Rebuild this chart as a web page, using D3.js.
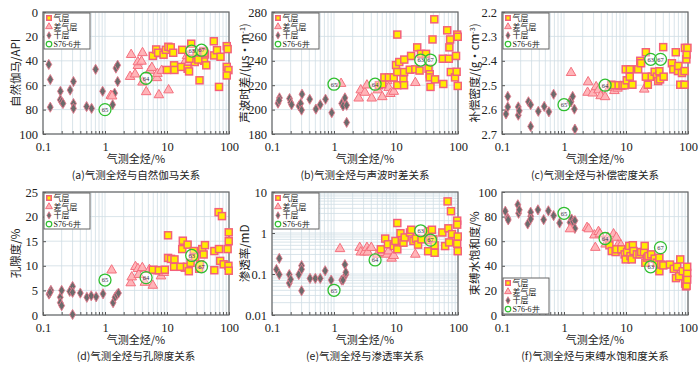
<!DOCTYPE html>
<html>
<head>
<meta charset="utf-8">
<script src="https://cdn.jsdelivr.net/npm/d3@7"></script>
<style>
  body { margin: 0; background: #fff; }
</style>
</head>
<body>
<svg id="chart" width="700" height="374"></svg>
<script>
// S76-6井 samples, same x in every panel
var wellNames = ["63", "64", "65", "67"];
var wellX = [25, 4.6, 1.0, 36];

// (a) 自然伽马/API
var gasA = [[5.9,36],[6.7,30.7],[7.2,33.4],[8.8,35],[9.6,31],[10.5,28.5],[11.5,29],[12.6,33.4],[13,43.7],[10,47.5],[13.2,47.5],[17.6,31],[17,45],[21.5,46.5],[22.7,48.7],[24.6,26],[28,41],[30,34],[34,38.3],[33.5,56],[38.5,32],[39.6,40],[41,34.8],[43,43.7],[57,24],[57.6,35.6],[64,31.3],[69,61.4],[73,36.7],[92,28],[95,30.4],[92,45],[98,47.6],[92,52],[23,38.3],[32,39],[40,33.5]];
var poorA = [[1.24,68.5],[1.3,69],[2.54,53],[2.64,35],[3.06,51],[3.39,44],[3.39,41],[3.88,40.5],[4.03,33.5],[4.03,57.6],[4.62,65.5],[5.3,48],[5.7,45.6],[6.88,54],[7.0,50.5],[7.4,68],[8.0,34.5],[8.2,48],[10.6,64],[20,40],[21,36],[22,42]];
var dryA = [[0.124,43],[0.131,55.4],[0.131,78],[0.191,65],[0.19,72],[0.2,73.6],[0.21,75],[0.274,64],[0.31,57],[0.31,75],[0.31,79],[0.505,77.5],[0.608,79],[0.706,47],[0.916,65],[1.33,76],[1.43,66.5],[1.5,46],[1.6,43.6],[1.6,57]];
var wellA = [32, 54.3, 80, 31.3];

// (b) 声波时差
var gasB = [[5.3,220],[6,220.8],[6.5,226.4],[7.7,226.4],[9.2,226.4],[10,236.5],[10.5,220],[10.5,230.8],[11.3,239],[10.5,261.5],[13.2,224.8],[13.5,230.8],[13.6,241],[13.5,220],[16.7,232.7],[17.5,244],[20.5,233],[22,251],[24,232],[25.3,245.7],[30.5,245.7],[33.5,233.5],[35,229],[35,226.4],[36,218.6],[38.8,257.5],[41.5,274],[42.6,224.8],[57,241.7],[58,221],[71,241.7],[67,265],[74.6,257.5],[72.6,251],[76.6,230.8],[89.5,226.4],[95,231],[93,244],[97,261.5],[99,259.7],[99,219.4]];
var poorB = [[1.3,221.3],[2.5,209.3],[2.7,216],[3.15,214],[3.4,220],[4.06,209.3],[5.1,216],[6.0,210.4],[7.2,223.5],[7.6,218],[8.1,213],[9.2,214.8],[20.5,222]];
var dryB = [[0.125,205.3],[0.132,209.6],[0.13,207.5],[0.192,209],[0.2,205.8],[0.207,204],[0.272,203],[0.29,205],[0.305,212.6],[0.3,199.6],[0.406,208.5],[0.51,200.4],[0.6,204],[0.73,208.5],[0.92,197.4],[1.33,205],[1.4,203],[1.5,209.6],[1.6,203.6],[1.6,189.5]];
var wellB = [240.6, 220.8, 220.8, 240.6];

// (c) 补偿密度
var gasC = [[5.8,2.498],[6.4,2.5],[7.6,2.5],[8.8,2.5],[9.5,2.5],[10.3,2.48],[9.9,2.435],[11.5,2.435],[11.5,2.465],[12.7,2.498],[15.7,2.435],[17,2.4],[17.5,2.41],[20.9,2.365],[20.9,2.465],[22.5,2.498],[26,2.465],[29,2.445],[31.5,2.465],[33,2.483],[34.5,2.443],[35.4,2.476],[39.8,2.344],[40.5,2.465],[55,2.41],[58,2.435],[63.5,2.365],[69,2.442],[70,2.421],[75,2.498],[80,2.45],[88,2.498],[88,2.442],[89,2.347],[94,2.394],[95,2.374],[98,2.347]];
var poorC = [[1.3,2.449],[2.45,2.487],[2.4,2.53],[2.9,2.533],[3.3,2.507],[3.6,2.52],[3.9,2.544],[4.6,2.548],[5.4,2.51],[6.5,2.523],[7.3,2.513],[8.2,2.505],[19.7,2.517]];
var dryC = [[0.116,2.618],[0.124,2.546],[0.124,2.589],[0.183,2.589],[0.183,2.623],[0.19,2.605],[0.267,2.568],[0.29,2.58],[0.29,2.669],[0.385,2.607],[0.48,2.587],[0.57,2.609],[0.68,2.537],[1.24,2.568],[1.3,2.568],[1.38,2.546],[1.47,2.598],[1.5,2.68]];
var wellC = [2.394, 2.5, 2.58, 2.394];

// (d) 孔隙度
var gasD = [[5.9,9.2],[7.4,9.1],[9.2,9.2],[10.4,16.2],[10.4,11.6],[11.6,11.4],[13,9.8],[13.2,11.3],[16.5,9.8],[17.6,13.4],[18,15.1],[21,9.8],[21.5,14.3],[22.5,8.9],[24,10.6],[27,13],[28.5,11.8],[33,9.4],[34,10.3],[37,13.4],[39,12.3],[41,14.2],[58,9.1],[58,13],[68,20.9],[69,13.4],[72,11],[77,20.1],[82,10.3],[95,13.4],[99,16.8],[99,15],[98,10],[99,9]];
var poorD = [[1.28,9.1],[2.6,6.5],[2.7,7.7],[3.1,9.8],[3.4,9.4],[3.5,8.2],[4,9.6],[4.4,6.6],[5.2,9.2],[5.9,6],[7.0,8.9],[8,7.9],[8.9,8.6],[20,9.4]];
var dryD = [[0.125,4.25],[0.134,5],[0.13,4.6],[0.19,3.6],[0.2,5],[0.19,2.5],[0.2,1.9],[0.27,4.8],[0.3,5.8],[0.3,4.6],[0.3,0.1],[0.4,4.45],[0.51,3.6],[0.6,3.9],[0.72,3.7],[0.93,4.3],[1.35,2.5],[1.45,3.6],[1.55,4.1],[1.65,4.45]];
var wellD = [12.1, 7.6, 7.1, 9.8];

// (e) 渗透率
var gasE = [[5.7,0.4],[6.7,0.73],[7.4,0.53],[9.2,0.48],[9.8,0.64],[10.5,1.75],[10.5,0.4],[11.8,0.99],[12.4,0.66],[13.2,0.58],[13.8,0.78],[16.8,1.03],[17.6,1.2],[19.1,0.64],[21,0.73],[22.7,0.52],[25.8,0.7],[33,1.1],[33,0.36],[35,0.67],[38,1.2],[40,0.7],[42,0.33],[42,0.5],[56,1.03],[62,0.48],[68,5.9],[70,1.3],[72,0.59],[77,3.4],[80,0.94],[97,2.0],[97,1.6],[97,0.55],[99,0.82],[99,0.36]];
var poorE = [[1.25,0.41],[2.6,0.44],[2.7,0.34],[3.1,0.34],[3.4,0.44],[3.5,0.34],[4,0.44],[5,0.3],[6,0.33],[7.2,0.3],[7.6,0.36],[8.5,0.24],[9.2,0.28],[20.5,0.3]];
var dryE = [[0.118,0.129],[0.131,0.24],[0.131,0.097],[0.19,0.097],[0.19,0.06],[0.2,0.074],[0.27,0.097],[0.3,0.16],[0.3,0.13],[0.3,0.039],[0.41,0.078],[0.5,0.078],[0.6,0.078],[0.72,0.12],[0.9,0.071],[1.33,0.071],[1.4,0.071],[1.5,0.17],[1.55,0.097],[1.55,0.11]];
var wellE = [1.13, 0.22, 0.04, 0.67];

// (f) 束缚水饱和度
var gasF = [[5.4,56.7],[5.9,52],[6.8,51.2],[7,53.4],[8.4,53.4],[9.5,49.3],[9.9,45.2],[10.4,51.2],[11.3,56.2],[11.8,47.9],[12.4,45.2],[12.9,56.7],[13.2,52],[15,49.3],[16.5,49.3],[17.6,51.2],[19.5,51.2],[20,56.2],[20.5,42.5],[22,46.6],[23,47.9],[25.5,49.3],[29,45.8],[31.5,42.5],[34.5,46.6],[34.5,35.6],[37,41],[40,40.3],[51,41],[59,37.5],[64,30],[67,39.2],[72,31.5],[75,45.2],[82,35.6],[90,25.5],[93,23.3],[95,23.8],[97,28.8],[97,34.2],[97,39.2]];
var poorF = [[1.25,69.9],[2.35,71],[2.5,69.9],[3.1,64.9],[3.2,54.8],[3.6,67.7],[3.8,65.8],[4.7,57.5],[5.1,63],[6.3,65.8],[7,63],[7.4,56.7],[8.3,56.7]];
var dryF = [[0.113,84.4],[0.124,78.6],[0.126,77.3],[0.18,89.6],[0.185,82.7],[0.19,85.5],[0.26,74],[0.29,80.3],[0.29,83.6],[0.29,78],[0.38,85.5],[0.47,77.5],[0.56,84.7],[0.68,80.8],[0.85,74.8],[1.25,75.3],[1.33,78],[1.4,75.9],[1.5,76.7],[1.5,70.4]];
var wellF = [39.2, 62.2, 82.7, 54.8];

var xTicks = [0.1, 1, 10, 100];
var legendNames = ["气层", "差气层", "干层", "S76-6井"];

var cols = [[43, 229], [272, 458], [502, 688]];
var rows = [[12, 134], [192, 315]];

var panels = [
  { cap: "(a)气测全烃与自然伽马关系", yl: ["自然伽马/API"], dom: [0, 100], rev: true, ticks: [0, 20, 40, 60, 80, 100],
    gas: gasA, poor: poorA, dry: dryA, well: wellA, c: 0, r: 0, leg: "top" },
  { cap: "(b)气测全烃与声波时差关系", yl: ["声波时差/(μs·m", "-1", ")"], dom: [180, 280], ticks: [180, 200, 220, 240, 260, 280],
    gas: gasB, poor: poorB, dry: dryB, well: wellB, c: 1, r: 0, leg: "top" },
  { cap: "(c)气测全烃与补偿密度关系", yl: ["补偿密度/(g·cm", "-3", ")"], dom: [2.2, 2.7], rev: true, ticks: [2.2, 2.3, 2.4, 2.5, 2.6, 2.7], fmt: ".1f",
    gas: gasC, poor: poorC, dry: dryC, well: wellC, c: 2, r: 0, leg: "top" },
  { cap: "(d)气测全烃与孔隙度关系", yl: ["孔隙度/%"], dom: [0, 25], ticks: [0, 5, 10, 15, 20, 25],
    gas: gasD, poor: poorD, dry: dryD, well: wellD, c: 0, r: 1, leg: "top" },
  { cap: "(e)气测全烃与渗透率关系", yl: ["渗透率/mD"], dom: [0.01, 10], log: true, ticks: [0.01, 0.1, 1, 10],
    gas: gasE, poor: poorE, dry: dryE, well: wellE, c: 1, r: 1, leg: "top" },
  { cap: "(f)气测全烃与束缚水饱和度关系", yl: ["束缚水饱和度/%"], dom: [0, 100], ticks: [0, 20, 40, 60, 80, 100],
    gas: gasF, poor: poorF, dry: dryF, well: wellF, c: 2, r: 1, leg: "bottom" }
];

var svg = d3.select("#chart");
var CJK = "'Noto Sans CJK SC', sans-serif";
var NUM = "'Liberation Serif', serif";

// minor positions for a log domain
function logMinors(lo, hi) {
  var out = [];
  for (var e = Math.round(Math.log10(lo)); e < Math.round(Math.log10(hi)); e++) {
    for (var k = 1; k <= 9; k++) out.push(k * Math.pow(10, e));
  }
  out.push(hi);
  return out;
}

var triangle = d3.symbol().type(d3.symbolTriangle).size(40);
var diamond = d3.symbol().type(d3.symbolDiamond).size(30);

function square(sel, cx, cy, s) {
  sel.attr("x", cx - s / 2).attr("y", cy - s / 2).attr("width", s).attr("height", s)
    .attr("fill", "#ffec00").attr("stroke", "#f4607a").attr("stroke-width", 1.5);
}

panels.forEach(function (p) {
  var x0 = cols[p.c][0], x1 = cols[p.c][1];
  var y0 = rows[p.r][0], y1 = rows[p.r][1];
  var g = svg.append("g");

  var x = d3.scaleLog().domain([0.1, 100]).range([x0, x1]);
  var y;
  if (p.log) {
    y = d3.scaleLog().domain(p.dom).range([y1, y0]);
  } else if (p.rev) {
    y = d3.scaleLinear().domain(p.dom).range([y0, y1]);
  } else {
    y = d3.scaleLinear().domain(p.dom).range([y1, y0]);
  }

  // grid
  var xm = logMinors(0.1, 100);
  g.append("g").selectAll("line").data(xm).enter().append("line")
    .attr("x1", function (d) { return x(d); }).attr("x2", function (d) { return x(d); })
    .attr("y1", y0).attr("y2", y1)
    .attr("stroke", "#cfdde4").attr("stroke-width", 0.8);
  var ygrid = p.log ? logMinors(p.dom[0], p.dom[1]) : p.ticks;
  g.append("g").selectAll("line").data(ygrid).enter().append("line")
    .attr("x1", x0).attr("x2", x1)
    .attr("y1", function (d) { return y(d); }).attr("y2", function (d) { return y(d); })
    .attr("stroke", "#cfdde4").attr("stroke-width", 0.8);

  // axes
  var fmtY = p.fmt ? d3.format(p.fmt) : function (d) { return String(d); };
  var ax = g.append("g").attr("transform", "translate(" + x0 + ",0)")
    .call(d3.axisLeft(y).tickValues(p.ticks).tickSize(-3).tickPadding(5).tickFormat(fmtY));
  ax.select(".domain").remove();
  ax.selectAll("line").attr("stroke", "#555");
  ax.selectAll("text").attr("font-size", 12.5).attr("fill", "#222").attr("font-family", NUM);

  var bx = g.append("g").attr("transform", "translate(0," + y1 + ")")
    .call(d3.axisBottom(x).tickValues(xm).tickSize(-3).tickPadding(8)
      .tickFormat(function (d) { return xTicks.indexOf(d) >= 0 ? String(d) : ""; }));
  bx.select(".domain").remove();
  bx.selectAll("line").attr("stroke", "#555");
  bx.selectAll("text").attr("font-size", 12.5).attr("fill", "#222").attr("font-family", NUM);

  g.append("rect").attr("x", x0).attr("y", y0).attr("width", x1 - x0).attr("height", y1 - y0)
    .attr("fill", "none").attr("stroke", "#666").attr("stroke-width", 1.2);

  // y label
  var lbl = g.append("text")
    .attr("transform", "translate(" + (x0 - 27) + "," + ((y0 + y1) / 2) + ") rotate(-90)")
    .attr("text-anchor", "middle").attr("dy", 4).attr("font-size", 11.5).attr("fill", "#222")
    .attr("font-family", CJK);
  lbl.append("tspan").text(p.yl[0]);
  if (p.yl.length > 1) {
    lbl.append("tspan").attr("dy", -4).attr("font-size", 7).text(p.yl[1]);
    lbl.append("tspan").attr("dy", 4).text(p.yl[2]);
  }

  // x label and caption
  var cx = (x0 + x1) / 2;
  g.append("text").attr("x", cx).attr("y", y1 + 29).attr("text-anchor", "middle")
    .attr("font-size", 11).attr("fill", "#222").attr("font-family", CJK)
    .text("气测全烃/%");
  g.append("text").attr("x", cx).attr("y", y1 + 45).attr("text-anchor", "middle")
    .attr("font-size", 10.5).attr("fill", "#222").attr("font-family", CJK)
    .text(p.cap);

  // points
  var pts = g.append("g");
  pts.selectAll(".dry").data(p.dry).enter().append("path").attr("class", "dry")
    .attr("d", diamond)
    .attr("transform", function (d) { return "translate(" + x(d[0]) + "," + y(d[1]) + ")"; })
    .attr("fill", "#6b6b6b").attr("stroke", "#e4798c").attr("stroke-width", 0.9);
  pts.selectAll(".poor").data(p.poor).enter().append("path").attr("class", "poor")
    .attr("d", triangle)
    .attr("transform", function (d) { return "translate(" + x(d[0]) + "," + y(d[1]) + ")"; })
    .attr("fill", "#ffb4b8").attr("stroke", "#f4707e").attr("stroke-width", 1);
  pts.selectAll(".gas").data(p.gas).enter().append("rect").attr("class", "gas")
    .each(function (d) { square(d3.select(this), x(d[0]), y(d[1]), 7); });

  var wells = pts.selectAll(".well").data(p.well).enter().append("g").attr("class", "well")
    .attr("transform", function (d, i) { return "translate(" + x(wellX[i]) + "," + y(d) + ")"; });
  wells.append("circle").attr("r", 6).attr("fill", "rgba(255,255,255,0.35)")
    .attr("stroke", "#2fbf2f").attr("stroke-width", 1.3);
  wells.append("text").attr("text-anchor", "middle").attr("dy", 2.3)
    .attr("font-size", 6.5).attr("fill", "#334").attr("font-family", NUM)
    .text(function (d, i) { return wellNames[i]; });

  // legend
  var lw = 46, lh = 36;
  var lx = x0 + 1, ly = p.leg === "top" ? y0 + 1 : y1 - lh - 1;
  var lg = g.append("g").attr("transform", "translate(" + lx + "," + ly + ")");
  lg.append("rect").attr("width", lw).attr("height", lh).attr("fill", "#fff")
    .attr("stroke", "#666").attr("stroke-width", 1);
  legendNames.forEach(function (name, i) {
    var cy = 5 + i * 8.7;
    var sx = 5;
    if (i === 0) {
      lg.append("rect").call(square, sx, cy, 4.5);
    } else if (i === 1) {
      lg.append("path").attr("d", d3.symbol().type(d3.symbolTriangle).size(20))
        .attr("transform", "translate(" + sx + "," + cy + ")")
        .attr("fill", "#ffb4b8").attr("stroke", "#f4707e").attr("stroke-width", 1);
    } else if (i === 2) {
      lg.append("path").attr("d", d3.symbol().type(d3.symbolDiamond).size(16))
        .attr("transform", "translate(" + sx + "," + cy + ")")
        .attr("fill", "#6b6b6b").attr("stroke", "#e4798c").attr("stroke-width", 0.8);
    } else {
      lg.append("circle").attr("cx", sx).attr("cy", cy).attr("r", 2.8)
        .attr("fill", "none").attr("stroke", "#2fbf2f").attr("stroke-width", 1.2);
    }
    lg.append("text").attr("x", 9.5).attr("y", cy + 2.8).attr("font-size", 8)
      .attr("fill", "#222").attr("font-family", i === 3 ? NUM : CJK).text(name);
  });
});
</script>
</body>
</html>
